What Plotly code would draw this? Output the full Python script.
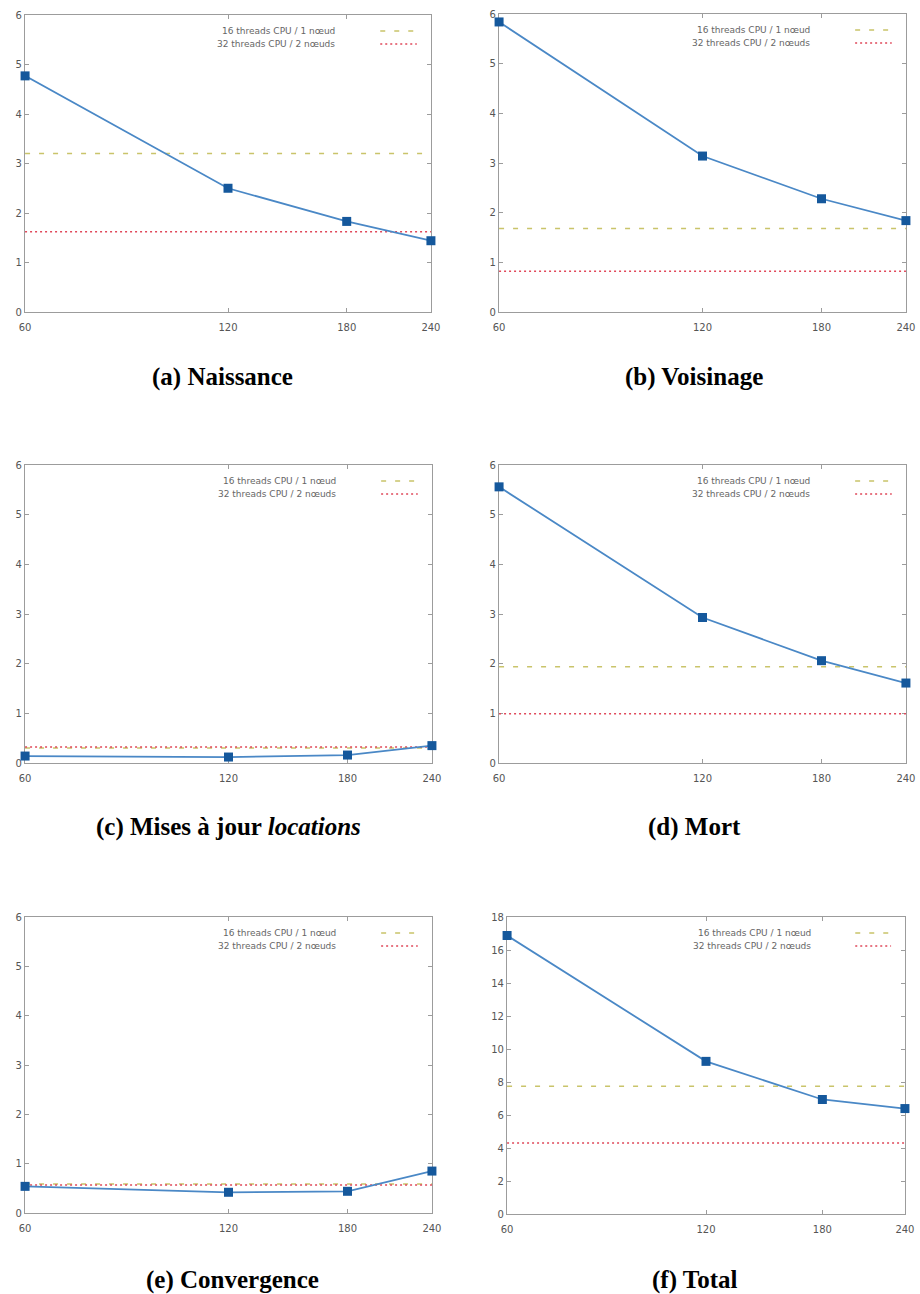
import plotly.graph_objects as go

# ---------------- data ----------------
threads = [60, 120, 180, 240]
tick_labels = ["60", "120", "180", "240"]

naissance = [4.77, 2.50, 1.83, 1.44]
voisinage = [5.84, 3.14, 2.28, 1.84]
locations = [0.14, 0.12, 0.16, 0.35]
mort = [5.56, 2.93, 2.06, 1.61]
convergence = [0.54, 0.42, 0.44, 0.85]
total = [16.88, 9.25, 6.94, 6.39]

ref_1node = [3.20, 1.68, 0.30, 1.94, 0.59, 7.74]   # 16 threads CPU / 1 nœud
ref_2nodes = [1.62, 0.82, 0.32, 0.99, 0.57, 4.31]  # 32 threads CPU / 2 nœuds

series = [naissance, voisinage, locations, mort, convergence, total]
captions = ["<b>(a) Naissance</b>", "<b>(b) Voisinage</b>",
            "<b>(c) Mises à jour <i>locations</i></b>", "<b>(d) Mort</b>",
            "<b>(e) Convergence</b>", "<b>(f) Total</b>"]
y_max = [6, 6, 6, 6, 6, 18]
y_dtick = [1, 1, 1, 1, 1, 2]
legend_1 = "16 threads CPU / 1 nœud"
legend_2 = "32 threads CPU / 2 nœuds"

# ---------------- layout (pixels) ----------------
W, H = 920, 1294
boxes = [  # left, right, top, bottom
    (25, 431, 15, 312),
    (499, 906, 14, 312),
    (25, 432, 465, 763),
    (499, 906, 465, 763),
    (25, 432, 917, 1213),
    (507, 905, 917, 1214),
]
caption_y = [377, 377, 827, 827, 1280, 1280]
caption_x = [222, 694, 228, 694, 232, 694]

BLUE_LINE = "#4a88c6"
BLUE_MARK = "#15589c"
YELLOW = "#c9c46a"
RED = "#e0485a"
FRAME = "#9c9c9c"
TICKTXT = "#555555"

EPS = 1e-4
fig = go.Figure()
layout = dict(
    width=W, height=H, margin=dict(l=0, r=0, t=0, b=0, autoexpand=False),
    paper_bgcolor="white", plot_bgcolor="white", showlegend=False,
    annotations=[], shapes=[],
)

for i, (l, r, t, b) in enumerate(boxes):
    n = i + 1
    xa = "xaxis" if n == 1 else f"xaxis{n}"
    ya = "yaxis" if n == 1 else f"yaxis{n}"
    xr = "x" if n == 1 else f"x{n}"
    yr = "y" if n == 1 else f"y{n}"

    layout[xa] = dict(
        domain=[l / W, r / W], anchor=yr, type="log", automargin=False,
        range=[1.7781512503836436 - EPS, 2.380211241711606 + EPS],
        tickvals=threads, ticktext=tick_labels, ticklabelstandoff=6,
        ticks="inside", ticklen=4, tickcolor=FRAME, tickwidth=1,
        showline=True, linecolor=FRAME, linewidth=1.2, mirror="ticks",
        showgrid=False, zeroline=False, layer="below traces",
        tickfont=dict(family="DejaVu Sans", size=10, color=TICKTXT),
    )
    layout[ya] = dict(
        domain=[1 - b / H, 1 - t / H], anchor=xr, automargin=False,
        range=[0, y_max[i]], dtick=y_dtick[i], tick0=0,
        ticks="inside", ticklen=4, tickcolor=FRAME, tickwidth=1,
        showline=True, linecolor=FRAME, linewidth=1.2, mirror="ticks",
        showgrid=False, zeroline=False, layer="below traces",
        tickfont=dict(family="DejaVu Sans", size=10, color=TICKTXT),
    )

    # reference lines
    fig.add_trace(go.Scatter(
        x=[threads[0], threads[-1]], y=[ref_1node[i], ref_1node[i]],
        mode="lines", line=dict(color=YELLOW, width=1.5, dash="5px,9px"),
        xaxis=xr, yaxis=yr, hoverinfo="skip"))
    fig.add_trace(go.Scatter(
        x=[threads[0], threads[-1]], y=[ref_2nodes[i], ref_2nodes[i]],
        mode="lines", line=dict(color=RED, width=1.5, dash="2px,3px"),
        xaxis=xr, yaxis=yr, hoverinfo="skip"))
    # measured series
    fig.add_trace(go.Scatter(
        x=threads, y=series[i], mode="lines+markers",
        line=dict(color=BLUE_LINE, width=1.8),
        marker=dict(symbol="square", size=9, color=BLUE_MARK),
        cliponaxis=False, xaxis=xr, yaxis=yr))

    # gnuplot-like key (text then sample)
    for k, (txt, col, dash, off) in enumerate([
            (legend_1, YELLOW, "5px,9px", 16), (legend_2, RED, "2px,3px", 29)]):
        yy = 1 - (t + off) / H
        layout["annotations"].append(dict(
            text=txt, xref="paper", yref="paper",
            x=(l + 0.768 * (r - l)) / W, y=yy, xanchor="right", yanchor="middle",
            showarrow=False, font=dict(family="DejaVu Sans", size=9, color="#666666")))
        layout["shapes"].append(dict(
            type="line", xref="paper", yref="paper",
            x0=(l + 0.875 * (r - l)) / W, x1=(l + 0.965 * (r - l)) / W,
            y0=yy, y1=yy, line=dict(color=col, width=1.5, dash=dash)))

    layout["annotations"].append(dict(
        text=captions[i], xref="paper", yref="paper",
        x=caption_x[i] / W, y=1 - caption_y[i] / H, xanchor="center", yanchor="middle",
        showarrow=False, font=dict(family="Liberation Serif", size=25, color="black")))

fig.update_layout(**layout)
fig.write_html(
    "out.html",
    config={"displayModeBar": False},
    post_script="document.body.style.margin='0px';document.body.style.overflow='hidden';",
)
